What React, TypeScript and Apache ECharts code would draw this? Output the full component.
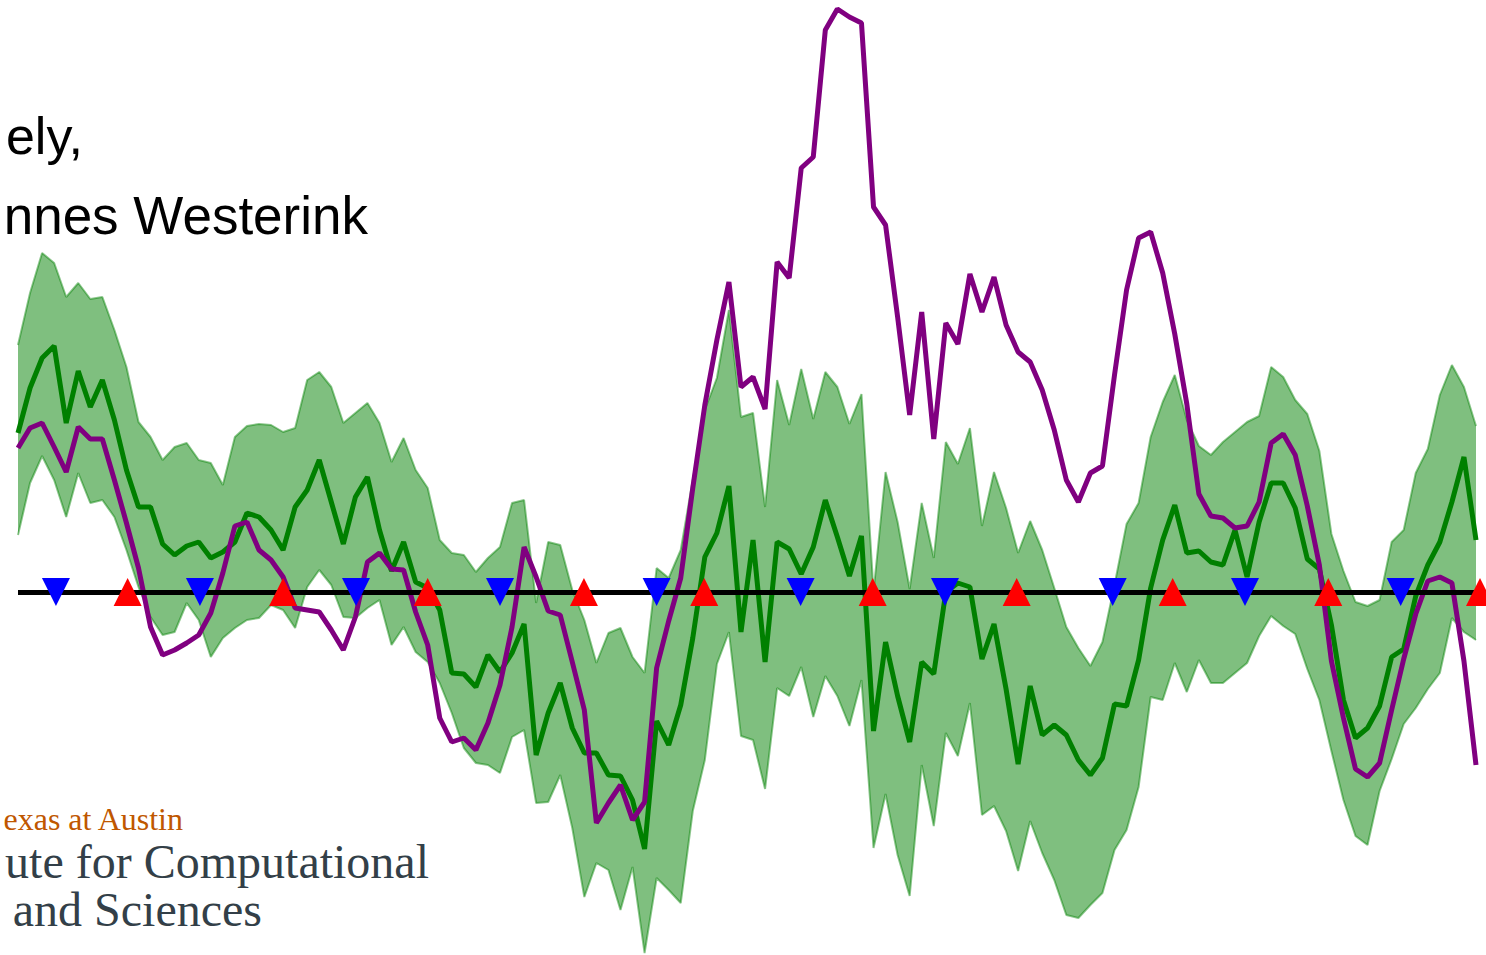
import React, { useEffect, useRef } from "react";
import * as echarts from "echarts";

// hourly samples, index 0..121
const MEAN = [
  1.59, 2.04, 2.34, 2.46, 1.69, 2.21, 1.85, 2.12, 1.72, 1.22,
  0.85, 0.85, 0.48, 0.37, 0.46, 0.50, 0.34, 0.40, 0.50, 0.79,
  0.75, 0.62, 0.42, 0.85, 1.02, 1.32, 0.90, 0.48, 0.95, 1.15,
  0.62, 0.21, 0.50, 0.10, 0.04, -0.18, -0.81, -0.82, -0.95, -0.63,
  -0.80, -0.61, -0.32, -1.63, -1.21, -0.91, -1.36, -1.61, -1.61, -1.83,
  -1.84, -2.08, -2.57, -1.29, -1.53, -1.13, -0.46, 0.35, 0.59, 1.06,
  -0.40, 0.52, -0.70, 0.50, 0.43, 0.18, 0.45, 0.92, 0.55, 0.16,
  0.56, -1.39, -0.50, -1.04, -1.50, -0.70, -0.82, 0.00, 0.09, 0.05,
  -0.67, -0.32, -0.97, -1.72, -0.94, -1.43, -1.33, -1.43, -1.68, -1.83,
  -1.66, -1.12, -1.14, -0.68, 0.04, 0.52, 0.87, 0.39, 0.41, 0.30,
  0.27, 0.62, 0.15, 0.70, 1.09, 1.09, 0.84, 0.33, 0.23, -0.33,
  -1.08, -1.46, -1.36, -1.14, -0.65, -0.57, -0.04, 0.27, 0.50, 0.90,
  1.35, 0.52,
];

const OBSERVED = [
  1.44, 1.64, 1.69, 1.45, 1.20, 1.65, 1.53, 1.53, 1.12, 0.69,
  0.24, -0.35, -0.63, -0.58, -0.51, -0.43, -0.21, 0.19, 0.66, 0.70,
  0.42, 0.32, 0.15, -0.16, -0.18, -0.20, -0.38, -0.58, -0.25, 0.30,
  0.39, 0.23, 0.22, -0.20, -0.53, -1.26, -1.50, -1.46, -1.58, -1.31,
  -0.93, -0.35, 0.45, 0.15, -0.19, -0.23, -0.70, -1.18, -2.31, -2.11,
  -1.93, -2.28, -2.10, -0.76, -0.29, 0.14, 1.04, 1.87, 2.52, 3.10,
  2.05, 2.15, 1.83, 3.30, 3.14, 4.24, 4.35, 5.62, 5.83, 5.75,
  5.69, 3.85, 3.67, 2.75, 1.77, 2.80, 1.53, 2.69, 2.48, 3.18,
  2.80, 3.15, 2.67, 2.40, 2.30, 2.02, 1.62, 1.12, 0.90, 1.19,
  1.26, 2.17, 3.02, 3.54, 3.60, 3.19, 2.58, 1.88, 0.98, 0.76,
  0.74, 0.64, 0.66, 0.90, 1.49, 1.58, 1.37, 0.86, 0.27, -0.69,
  -1.26, -1.77, -1.85, -1.71, -1.18, -0.67, -0.22, 0.11, 0.15, 0.09,
  -0.69, -1.73,
];

const UPPER = [
  2.47, 2.99, 3.39, 3.29, 2.95, 3.09, 2.93, 2.95, 2.62, 2.25,
  1.70, 1.55, 1.32, 1.45, 1.49, 1.32, 1.29, 1.07, 1.55, 1.66,
  1.68, 1.67, 1.60, 1.64, 2.12, 2.20, 2.05, 1.69, 1.79, 1.89,
  1.69, 1.30, 1.54, 1.22, 1.04, 0.52, 0.39, 0.37, 0.20, 0.34,
  0.45, 0.89, 0.92, -0.11, 0.50, 0.47, 0.02, -0.28, -0.71, -0.41,
  -0.36, -0.65, -0.81, 0.24, 0.14, 0.42, 1.12, 1.82, 2.14, 2.82,
  1.75, 1.79, 0.85, 2.12, 1.67, 2.23, 1.73, 2.20, 2.05, 1.68,
  1.98, 0.00, 1.20, 0.70, 0.03, 0.89, 0.34, 1.50, 1.28, 1.64,
  0.66, 1.20, 0.84, 0.39, 0.71, 0.42, 0.04, -0.35, -0.56, -0.74,
  -0.50, 0.07, 0.68, 0.89, 1.55, 1.90, 2.17, 1.72, 1.46, 1.37,
  1.50, 1.60, 1.70, 1.76, 2.25, 2.15, 1.92, 1.78, 1.41, 0.58,
  0.21, -0.10, -0.14, -0.08, 0.50, 0.62, 1.19, 1.43, 1.97, 2.27,
  2.05, 1.66,
];

const LOWER = [
  0.57, 1.09, 1.36, 1.12, 0.75, 1.19, 0.89, 0.92, 0.75, 0.42,
  0.05, -0.25, -0.43, -0.40, -0.11, -0.28, -0.65, -0.46, -0.36, -0.28,
  -0.26, -0.13, -0.18, -0.36, 0.05, 0.22, 0.07, -0.25, -0.26, -0.16,
  -0.08, -0.53, -0.35, -0.60, -0.70, -0.91, -1.21, -1.56, -1.71, -1.73,
  -1.81, -1.45, -1.38, -2.11, -2.10, -1.83, -2.36, -3.05, -2.71, -2.78,
  -3.18, -2.75, -3.61, -2.86, -2.98, -3.11, -2.19, -1.68, -0.72, -0.40,
  -1.44, -1.48, -1.97, -0.96, -1.04, -0.75, -1.25, -0.84, -1.04, -1.34,
  -0.88, -2.56, -2.02, -2.63, -3.04, -1.73, -2.34, -1.41, -1.64, -1.11,
  -2.23, -2.14, -2.39, -2.79, -2.29, -2.61, -2.88, -3.23, -3.26, -3.13,
  -3.01, -2.58, -2.38, -1.95, -1.05, -1.08, -0.71, -1.00, -0.68, -0.91,
  -0.91, -0.81, -0.71, -0.44, -0.24, -0.34, -0.42, -0.77, -1.08, -1.59,
  -2.08, -2.44, -2.53, -1.99, -1.67, -1.32, -1.16, -0.97, -0.81, -0.26,
  -0.40, -0.48,
];

// event times (hour index) marked on the zero line
const DOWN_MARKS = [3.15, 15.1, 28.05, 40.0, 53.0, 64.95, 76.93, 90.85, 101.83, 114.75];
const UP_MARKS = [9.1, 22.0, 34.0, 46.97, 56.95, 70.93, 82.88, 95.83, 108.74, 121.33];

const X_MAX = 121.83;
const Y_MIN = -3.63;
const Y_MAX = 5.92;

export default function App() {
  const ref = useRef<HTMLDivElement>(null);

  useEffect(() => {
    if (!ref.current) return;
    const chart = echarts.init(ref.current, null, { renderer: "svg" });

    const lowerData = LOWER.map((v, i) => [i, v]);
    const upperData = UPPER.map((v, i) => [i, v]);
    const meanData = MEAN.map((v, i) => [i, v]);
    const obsData = OBSERVED.map((v, i) => [i, v]);

    const sans = '"Liberation Sans", Arial, sans-serif';
    const serif = '"Liberation Serif", "Times New Roman", serif';

    chart.setOption({
      animation: false,
      backgroundColor: "#ffffff",
      grid: { left: 18, right: 0, top: 0, bottom: 0, containLabel: false },
      xAxis: {
        type: "value",
        min: 0,
        max: X_MAX,
        show: false,
        splitLine: { show: false },
      },
      yAxis: {
        type: "value",
        min: Y_MIN,
        max: Y_MAX,
        show: false,
        splitLine: { show: false },
      },
      graphic: [
        {
          type: "text",
          x: 83,
          y: 136,
          z: 0,
          style: { text: "ely,", fill: "#000000", fontSize: 52, fontFamily: sans, align: "right", verticalAlign: "middle" },
        },
        {
          type: "text",
          x: 368,
          y: 215,
          z: 0,
          style: { text: "nnes Westerink", fill: "#000000", fontSize: 53, fontFamily: sans, align: "right", verticalAlign: "middle" },
        },
        {
          type: "text",
          x: 183,
          y: 819,
          z: 0,
          style: { text: "exas at Austin", fill: "#bf5700", fontSize: 32, fontFamily: serif, align: "right", verticalAlign: "middle" },
        },
        {
          type: "text",
          x: 429,
          y: 861,
          z: 0,
          style: { text: "ute for Computational", fill: "#333f48", fontSize: 48, fontFamily: serif, align: "right", verticalAlign: "middle" },
        },
        {
          type: "text",
          x: 262,
          y: 909,
          z: 0,
          style: { text: "and Sciences", fill: "#333f48", fontSize: 48, fontFamily: serif, align: "right", verticalAlign: "middle" },
        },
      ],
      series: [
        {
          name: "band",
          type: "custom",
          silent: true,
          z: 1,
          data: [[0, 0]],
          encode: { x: 0, y: 1 },
          renderItem: (_params: any, api: any) => {
            const top = UPPER.map((v, i) => api.coord([i, v]));
            const bottom = LOWER.map((v, i) => api.coord([i, v])).reverse();
            return {
              type: "polygon",
              shape: { points: top.concat(bottom) },
              style: { fill: "rgba(0,128,0,0.5)", stroke: "none" },
            };
          },
        },
        {
          name: "upper",
          type: "line",
          data: upperData,
          symbol: "none",
          lineStyle: { color: "rgba(0,128,0,0.45)", width: 2 },
          silent: true,
          z: 2,
        },
        {
          name: "lower",
          type: "line",
          data: lowerData,
          symbol: "none",
          lineStyle: { color: "rgba(0,128,0,0.45)", width: 2 },
          silent: true,
          z: 2,
        },
        {
          name: "mean",
          type: "line",
          data: meanData,
          symbol: "none",
          lineStyle: { color: "#008000", width: 5 },
          silent: true,
          z: 3,
        },
        {
          name: "observed",
          type: "line",
          data: obsData,
          symbol: "none",
          lineStyle: { color: "#800080", width: 5 },
          silent: true,
          z: 4,
          markLine: {
            silent: true,
            symbol: "none",
            label: { show: false },
            lineStyle: { color: "#000000", width: 5, type: "solid", opacity: 1 },
            data: [{ yAxis: 0 }],
            z: 5,
          },
        },
        {
          name: "down",
          type: "scatter",
          data: DOWN_MARKS.map((t) => [t, 0]),
          symbol: "triangle",
          symbolRotate: 180,
          symbolSize: [28, 28],
          itemStyle: { color: "#0000ff", opacity: 1 },
          silent: true,
          z: 6,
        },
        {
          name: "up",
          type: "scatter",
          data: UP_MARKS.map((t) => [t, 0]),
          symbol: "triangle",
          symbolSize: [28, 28],
          itemStyle: { color: "#ff0000", opacity: 1 },
          silent: true,
          z: 6,
        },
      ],
    });

    return () => chart.dispose();
  }, []);

  return (
    <div
      ref={ref}
      style={{ position: "fixed", left: 0, top: 0, width: 1486, height: 955, background: "#ffffff" }}
    />
  );
}
